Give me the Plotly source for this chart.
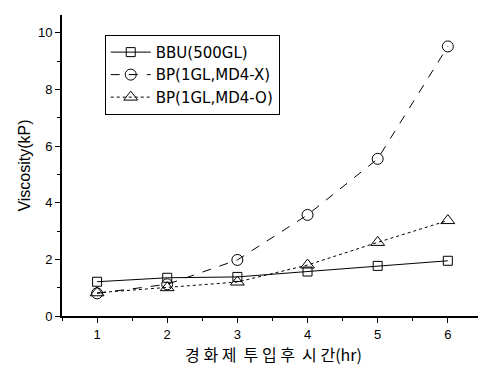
import plotly.graph_objects as go

hours = [1, 2, 3, 4, 5, 6]
bbu_500gl = [1.21, 1.35, 1.38, 1.57, 1.77, 1.95]
bp_md4_x = [0.80, 1.12, 1.98, 3.57, 5.55, 9.52]
bp_md4_o = [0.82, 1.0, 1.2, 1.8, 2.6, 3.37]

names = ["BBU(500GL)", "BP(1GL,MD4-X)", "BP(1GL,MD4-O)"]
x_ticks = [1, 2, 3, 4, 5, 6]
y_ticks = [0, 2, 4, 6, 8, 10]

fig = go.Figure()
fig.add_trace(go.Scatter(x=hours, y=bbu_500gl, name=names[0], mode="lines+markers",
                         line=dict(color="black", width=1),
                         marker=dict(symbol="square-open", size=9, color="black", line=dict(width=1))))
fig.add_trace(go.Scatter(x=hours, y=bp_md4_x, name=names[1], mode="lines+markers",
                         line=dict(color="black", width=1, dash="dash"),
                         marker=dict(symbol="circle-open", size=11, color="black", line=dict(width=1))))
fig.add_trace(go.Scatter(x=hours, y=bp_md4_o, name=names[2], mode="lines+markers",
                         line=dict(color="black", width=1, dash="dot"),
                         marker=dict(symbol="triangle-up-open", size=12, color="black", line=dict(width=1))))

fig.update_layout(
    width=478, height=362,
    margin=dict(l=54, r=1, t=7, b=54),
    paper_bgcolor="white", plot_bgcolor="white",
    font=dict(family="Liberation Sans, Arial, sans-serif", color="black"),
    showlegend=True,
    legend=dict(x=0.101, y=0.934, xanchor="left", yanchor="top",
                bordercolor="black", borderwidth=1, bgcolor="white",
                font=dict(size=15, family="DejaVu Sans"), tracegroupgap=0, itemwidth=40),
    xaxis=dict(range=[0.5, 6.53], tickvals=x_ticks, showline=True, linecolor="black", linewidth=2,
               ticks="outside", ticklen=5, tickcolor="black", showgrid=False, zeroline=False,
               tickfont=dict(size=13, family="Liberation Sans, Arial, sans-serif"),
               minor=dict(dtick=0.5, ticks="outside", ticklen=3, tickcolor="black"),
               title=dict(text="경 화 제  투 입 후  시 간(hr)", font=dict(size=16, family="Noto Sans CJK KR"), standoff=8)),
    yaxis=dict(range=[0, 10.63], tickvals=y_ticks, showline=True, linecolor="black", linewidth=2,
               ticks="outside", ticklen=5, tickcolor="black", showgrid=False, zeroline=False,
               tickfont=dict(size=13, family="Liberation Sans, Arial, sans-serif"),
               minor=dict(dtick=1, ticks="outside", ticklen=3, tickcolor="black"),
               title=dict(text="Viscosity(kP)", font=dict(size=16), standoff=3)),
)

fig.write_html("out.html")
